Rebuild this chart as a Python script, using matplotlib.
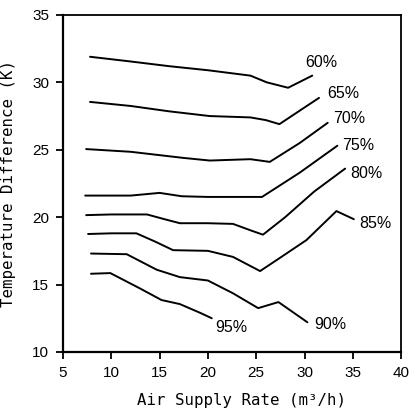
import matplotlib
matplotlib.use('Agg')
import matplotlib.pyplot as plt

# humidity curves (x = air supply rate, y = temp difference)
x60 = [7.8, 12, 16, 20, 24.4, 26.1, 28.3, 30.8]
y60 = [31.9, 31.55, 31.2, 30.9, 30.5, 30.0, 29.6, 30.5]

x65 = [7.8, 12, 16, 20.2, 24.4, 26, 27.4, 29.5, 31.5]
y65 = [28.55, 28.25, 27.85, 27.5, 27.4, 27.2, 26.9, 27.9, 28.85]

x70 = [7.4, 12, 17.4, 20.2, 24.4, 26.4, 29.5, 32.4]
y70 = [25.05, 24.85, 24.4, 24.2, 24.3, 24.1, 25.5, 27.0]

x75 = [7.3, 12, 15, 17.3, 20, 25.6, 29.5, 33.4]
y75 = [21.6, 21.6, 21.8, 21.55, 21.5, 21.5, 23.3, 25.3]

x80 = [7.4, 10, 13.7, 15.5, 17.1, 20, 22.6, 24.5, 25.7, 28, 31, 34.2]
y80 = [20.15, 20.2, 20.2, 19.85, 19.55, 19.55, 19.5, 19.0, 18.7, 20.0, 21.9, 23.6]

x85 = [7.6, 10, 12.6, 14.5, 16.4, 20, 22.6, 25.4, 27.5, 30.2, 33.3, 35.1]
y85 = [18.75, 18.8, 18.8, 18.2, 17.55, 17.5, 17.05, 16.0, 17.0, 18.3, 20.45, 19.85]

x90 = [7.9, 11.6, 14.7, 17.1, 20, 22.6, 25.2, 27.3, 30.3]
y90 = [17.3, 17.25, 16.1, 15.55, 15.3, 14.35, 13.25, 13.7, 12.2]

x95 = [7.9, 9.9, 13, 15.2, 17.1, 19.2, 20.4]
y95 = [15.8, 15.85, 14.7, 13.85, 13.55, 12.9, 12.5]

labels = ["60%", "65%", "70%", "75%", "80%", "85%", "90%", "95%"]
label_x = [31.7, 34.0, 34.6, 35.6, 36.4, 37.3, 32.7, 22.45]
label_y = [31.5, 29.2, 27.35, 25.3, 23.25, 19.55, 12.05, 11.8]

xticks = [5, 10, 15, 20, 25, 30, 35, 40]
yticks = [10, 15, 20, 25, 30, 35]

curves = [(x60, y60), (x65, y65), (x70, y70), (x75, y75),
          (x80, y80), (x85, y85), (x90, y90), (x95, y95)]

fig = plt.figure(figsize=(4.17, 4.16), dpi=100)
ax = fig.add_axes([0.151, 0.154, 0.811, 0.810])

for xs, ys in curves:
    ax.plot(xs, ys, color='black', linewidth=1.4, solid_capstyle='round')

for t, lx, ly in zip(labels, label_x, label_y):
    ax.text(lx, ly, t, ha='center', va='center', fontsize=11.5,
            family=['Liberation Sans Narrow', 'Liberation Sans'])

ax.set_xlim(5, 40)
ax.set_ylim(10, 35)
ax.set_xticks(xticks)
ax.set_yticks(yticks)
ax.set_xticklabels([str(v) for v in xticks], family='Liberation Sans', fontsize=11)
ax.set_yticklabels([str(v) for v in yticks], family='Liberation Sans', fontsize=11)
ax.tick_params(direction='out', length=5, width=1.3, pad=5)

for sp in ax.spines.values():
    sp.set_linewidth(1.3)
ax.spines['left'].set_linewidth(1.6)
ax.spines['bottom'].set_linewidth(1.6)

ax.set_xlabel("Air Supply Rate (m³/h)", family='DejaVu Sans Mono', fontsize=11.3)
ax.set_ylabel("Temperature Difference (K)", family='DejaVu Sans Mono', fontsize=11.3)
ax.xaxis.set_label_coords(0.527, -0.122)
ax.yaxis.set_label_coords(-0.138, 0.5)

fig.savefig("out.png", dpi=100)
